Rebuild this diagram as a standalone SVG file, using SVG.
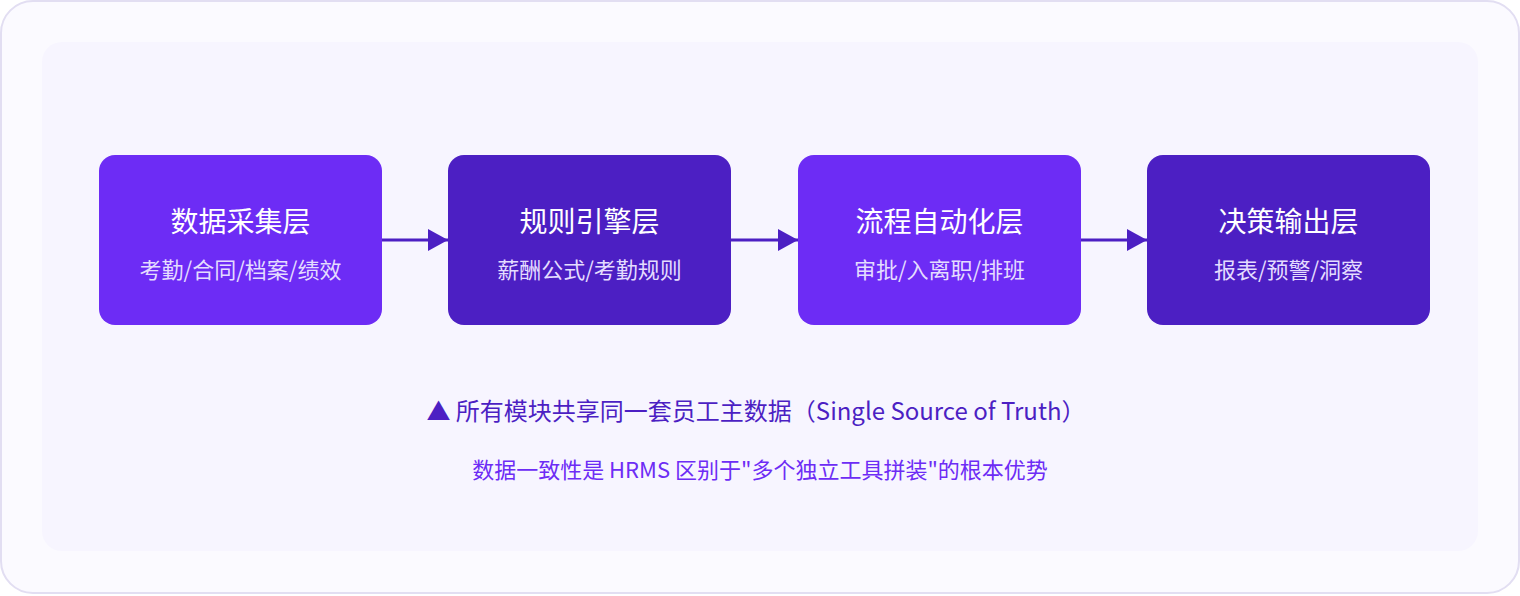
<svg xmlns="http://www.w3.org/2000/svg" width="1520" height="596" viewBox="0 0 1520 596">
<defs>
<style>
.node rect{rx:16;ry:16}
.a{fill:#6d2cf5}
.b{fill:#4c1fc3}
.t{font-family:"Noto Sans CJK SC","Noto Sans",sans-serif;text-anchor:middle}
.title{font-size:28px;fill:#ffffff}
.sub{font-size:22px;fill:#e4dcff}
.conn line{stroke:#4c1fc3;stroke-width:3}
</style>
<marker id="arr" viewBox="0 0 20 22" refX="20" refY="11" markerWidth="20" markerHeight="22" markerUnits="userSpaceOnUse" orient="auto">
<path d="M0,0 L20,11 L0,22 Z" fill="#4c1fc3"/>
</marker>
</defs>
<rect x="1" y="1" width="1518" height="592" rx="32" fill="#fbfaff" stroke="#e2def2" stroke-width="2"/>
<rect x="42" y="42" width="1436" height="509" rx="20" fill="#f7f5ff"/>
<g class="conn">
<line x1="382" y1="240" x2="448" y2="240" marker-end="url(#arr)"/>
<line x1="731" y1="240" x2="798" y2="240" marker-end="url(#arr)"/>
<line x1="1081" y1="240" x2="1147" y2="240" marker-end="url(#arr)"/>
</g>
<g id="n1" class="node"><rect class="a" x="99" y="155" width="283" height="170"/><text class="t title" x="240.5" y="232">数据采集层</text><text class="t sub" x="240.5" y="278">考勤/合同/档案/绩效</text></g>
<g id="n2" class="node"><rect class="b" x="448" y="155" width="283" height="170"/><text class="t title" x="589.5" y="232">规则引擎层</text><text class="t sub" x="589.5" y="278">薪酬公式/考勤规则</text></g>
<g id="n3" class="node"><rect class="a" x="798" y="155" width="283" height="170"/><text class="t title" x="939.5" y="232">流程自动化层</text><text class="t sub" x="939.5" y="278">审批/入离职/排班</text></g>
<g id="n4" class="node"><rect class="b" x="1147" y="155" width="283" height="170"/><text class="t title" x="1288.5" y="232">决策输出层</text><text class="t sub" x="1288.5" y="278">报表/预警/洞察</text></g>
<text class="t" x="756" y="420" font-size="24" fill="#4c1fc3">▲ 所有模块共享同一套员工主数据（Single Source of Truth）</text>
<text class="t" x="760" y="478" font-size="22" fill="#6d2cf5">数据一致性是 HRMS 区别于"多个独立工具拼装"的根本优势</text>
</svg>
